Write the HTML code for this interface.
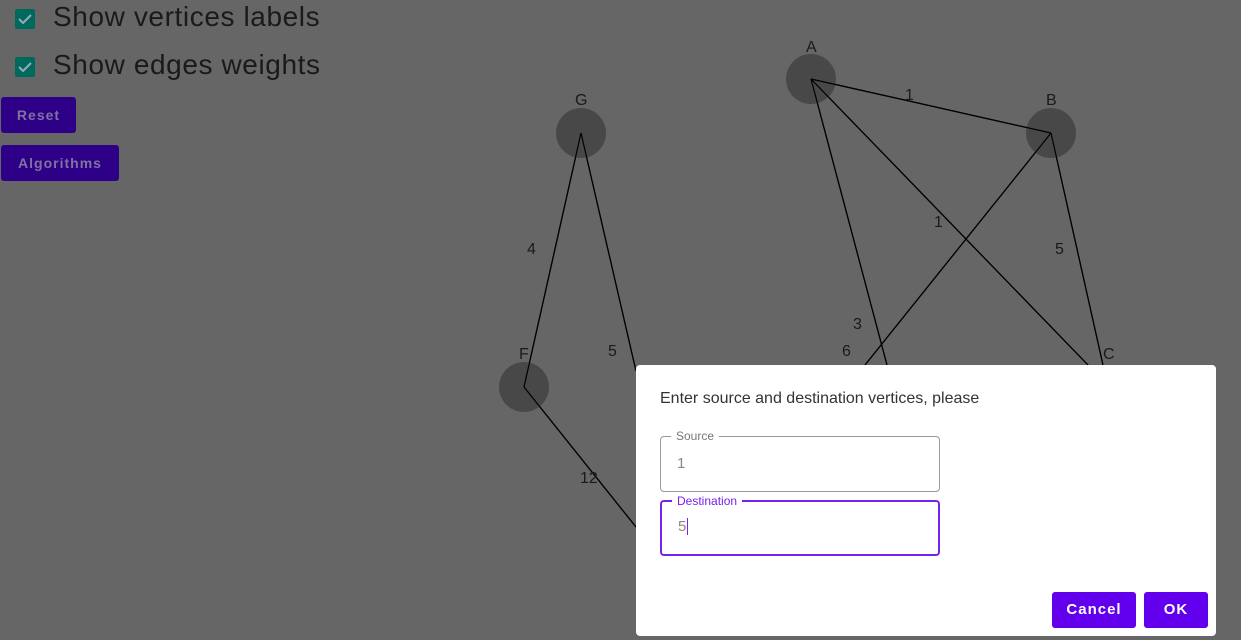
<!DOCTYPE html>
<html><head><style>
body{margin:0;width:1241px;height:640px;background:#666;overflow:hidden;position:relative;font-family:"Liberation Sans",sans-serif}
.cb{position:absolute;left:15px;width:20px;height:20px;background:#00695e;border-radius:2px}
.lbl{position:absolute;left:53px;font-size:28px;letter-spacing:0.6px;color:#1a1a1a}
.btn{position:absolute;left:1px;background:#2e0087;color:#7f72a0;font-size:14px;font-weight:bold;letter-spacing:1px;border-radius:3px;text-align:center;line-height:36px;height:36px}
.dlg{position:absolute;left:636px;top:365px;width:580px;height:271px;background:#fff;border-radius:4px}
.fld{position:absolute;left:24px;width:278px;height:54px;border-radius:4px}
.fl{position:absolute;left:10px;top:-8px;background:#fff;padding:0 5px;font-size:12px}
.v{position:absolute;left:16px;top:18px;font-size:15px}
.db{position:absolute;top:227px;height:36px;background:#6200ee;color:#fff;font-weight:bold;font-size:15px;letter-spacing:1px;line-height:36px;text-align:center;border-radius:3px}
</style></head><body>
<svg width="1241" height="640" style="position:absolute;left:0;top:0" font-family="Liberation Sans" font-size="16" fill="#1a1a1a">
<g stroke="#000" stroke-width="1.2">
<line x1="811" y1="79" x2="1051" y2="133"/>
<line x1="811" y1="79" x2="887" y2="365"/>
<line x1="811" y1="79" x2="1088" y2="365"/>
<line x1="1051" y1="133" x2="865" y2="365"/>
<line x1="1051" y1="133" x2="1103" y2="365"/>
<line x1="581" y1="133" x2="524" y2="387"/>
<line x1="581" y1="133" x2="636" y2="371"/>
<line x1="524" y1="387" x2="636" y2="527"/>
</g>
<g fill="#484848">
<circle cx="811" cy="79" r="25"/><circle cx="1051" cy="133" r="25"/>
<circle cx="581" cy="133" r="25"/><circle cx="524" cy="387" r="25"/>
<circle cx="1108" cy="390" r="25"/>
</g>
<g stroke="#000" stroke-width="1.2">
<line x1="811" y1="79" x2="1051" y2="133"/>
<line x1="811" y1="79" x2="887" y2="365"/>
<line x1="811" y1="79" x2="1088" y2="365"/>
<line x1="1051" y1="133" x2="865" y2="365"/>
<line x1="1051" y1="133" x2="1103" y2="365"/>
<line x1="581" y1="133" x2="524" y2="387"/>
<line x1="581" y1="133" x2="636" y2="371"/>
<line x1="524" y1="387" x2="636" y2="527"/>
</g>
<g stroke="#9ab" stroke-width="2" fill="none">
<polyline points="19,19 23,23 31,15"/><polyline points="19,67 23,71 31,63"/>
</g>
<text x="806" y="52">A</text><text x="1046" y="105">B</text><text x="575" y="105">G</text>
<text x="519" y="359">F</text><text x="1103" y="359">C</text>
<text x="905" y="100">1</text><text x="934" y="227">1</text><text x="1055" y="254">5</text>
<text x="853" y="329">3</text><text x="842" y="356">6</text><text x="527" y="254">4</text>
<text x="608" y="356">5</text><text x="580" y="483">12</text>
</svg>
<div class="cb" style="top:9px;z-index:-1"></div><div class="lbl" style="top:1px">Show vertices labels</div>
<div class="cb" style="top:57px;z-index:-1"></div><div class="lbl" style="top:49px">Show edges weights</div>
<div class="btn" style="top:97px;width:75px">Reset</div>
<div class="btn" style="top:145px;width:118px">Algorithms</div>
<div class="dlg">
<div style="position:absolute;left:24px;top:25px;font-size:16px;color:#333">Enter source and destination vertices, please</div>
<div class="fld" style="top:71px;border:1px solid #999"><span class="fl" style="color:#777">Source</span><span class="v" style="color:#888">1</span></div>
<div class="fld" style="top:135px;border:2px solid #7722ee;width:276px;height:52px"><span class="fl" style="color:#7722ee">Destination</span><span class="v" style="color:#888;top:16px">5<span style="border-left:1px solid #7722ee;margin-left:1px"></span></span></div>
<div class="db" style="left:416px;width:84px">Cancel</div>
<div class="db" style="left:508px;width:64px">OK</div>
</div>
</body></html>
